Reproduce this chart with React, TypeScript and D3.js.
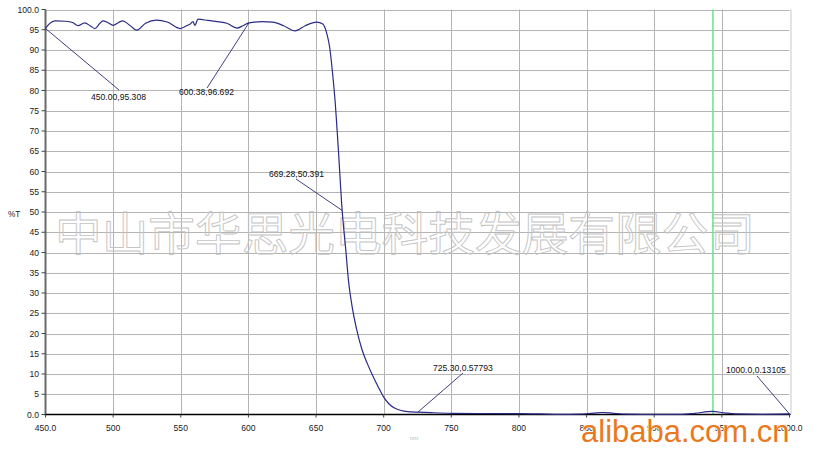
import React from "react";
import * as d3 from "d3";

const wavelengths = [
  450, 453, 457, 465, 470, 474, 479, 483, 486.5, 490, 492.5, 496, 500, 504, 507, 512, 517.5, 524, 532, 540,
  549.5, 555, 557, 559, 560.5, 562.7, 570, 584, 591.5, 596, 600.4, 610, 618, 626, 634.5, 642, 650.5, 655,
  658, 660, 662, 664, 666.5, 669.3, 672, 674, 677, 680, 684, 688, 692, 696, 700, 704, 708, 714, 720, 725.3,
  735, 750, 770, 800, 815, 830, 845, 855, 862, 870, 880, 900, 920, 930, 943, 952, 960, 980, 1000,
];
const transmittance = [
  95.3, 96.5, 97.2, 97.1, 96.8, 96.0, 96.7, 96.0, 95.3, 96.5, 97.2, 96.8, 96.1, 96.8, 97.2, 96.2, 94.9, 96.6, 97.4, 96.9,
  95.3, 96.1, 96.4, 97.0, 96.1, 97.6, 97.3, 96.6, 95.4, 96.0, 96.7, 97.0, 96.9, 96.0, 94.7, 96.0, 96.9, 96.4,
  94.0, 90.8, 85.0, 77.7, 65.4, 50.4, 40.6, 33, 26, 21, 16, 12.5, 9.5, 6.8, 4.3, 2.6, 1.6, 0.9, 0.65, 0.578,
  0.45, 0.3, 0.25, 0.22, 0.15, 0.05, 0.1, 0.35, 0.5, 0.3, 0.1, 0.02, 0.05, 0.3, 0.75, 0.4, 0.15, 0.05, 0.131,
];

const xTicks = [450, 500, 550, 600, 650, 700, 750, 800, 850, 900, 950, 1000];
const xTickLabels = ["450.0", "500", "550", "600", "650", "700", "750", "800", "850", "900", "950", "1000.0"];
const yTicks = [0, 5, 10, 15, 20, 25, 30, 35, 40, 45, 50, 55, 60, 65, 70, 75, 80, 85, 90, 95, 100];
const yTickLabels = yTicks.map((v) => (v === 0 ? "0.0" : v === 100 ? "100.0" : String(v)));

const markerX = 943.4;

const annotationPoints = [
  { w: 450.0, t: 95.308, label: "450.00,95.308" },
  { w: 600.38, t: 96.692, label: "600.38,96.692" },
  { w: 669.28, t: 50.391, label: "669.28,50.391" },
  { w: 725.3, t: 0.57793, label: "725.30,0.57793" },
  { w: 1000.0, t: 0.13105, label: "1000.0,0.13105" },
];
// label anchor offsets (pixels) relative to the data point: line end and text position
const annotationLayout = [
  { lx: 119, ly: 90, tx: 91, ty: 100 },
  { lx: 207, ly: 88, tx: 179, ty: 95 },
  { lx: 296, ly: 179, tx: 269, ty: 177 },
  { lx: 463, ly: 373, tx: 433, ty: 371 },
  { lx: 757, ly: 376, tx: 726, ty: 373 },
];

const watermark = "中山市华思光电科技发展有限公司";

export default function App() {
  const W = 813;
  const H = 455;
  const x = d3.scaleLinear().domain([450, 1000]).range([45.5, 789.5]);
  const y = d3.scaleLinear().domain([0, 100]).range([414.5, 9.5]);

  const data = wavelengths.map((w, i) => [w, transmittance[i]] as [number, number]);
  const line = d3
    .line<[number, number]>()
    .x((d) => x(d[0]))
    .y((d) => y(d[1]))
    .curve(d3.curveMonotoneX);

  const font = "'Liberation Sans', Arial, sans-serif";

  return (
    <svg
      width={W}
      height={H}
      viewBox={`0 0 ${W} ${H}`}
      style={{ position: "absolute", left: 0, top: 0, display: "block", background: "#fff" }}
    >
      <rect x={0} y={0} width={W} height={H} fill="#fff" />

      {/* grid */}
      {xTicks.slice(1).map((t) => (
        <line key={"gx" + t} x1={Math.round(x(t)) + 0.5} x2={Math.round(x(t)) + 0.5} y1={y(100)} y2={y(0)} stroke="#b4b4b4" strokeWidth={1} />
      ))}
      {yTicks.slice(1).map((t) => (
        <line key={"gy" + t} x1={x(450)} x2={x(1000)} y1={Math.round(y(t)) + 0.5} y2={Math.round(y(t)) + 0.5} stroke="#b4b4b4" strokeWidth={1} />
      ))}
      <line x1={x(1000) + 1.5} x2={x(1000) + 1.5} y1={y(100)} y2={y(0)} stroke="#e4e4e4" strokeWidth={2} />

      {/* watermark */}
      <text
        x={55}
        y={250}
        fontFamily="'Noto Sans CJK SC', sans-serif"
        fontSize={46}
        textLength={700}
        lengthAdjust="spacingAndGlyphs"
        fill="none"
        stroke="#c4c4c4"
        strokeWidth={0.9}
      >
        {watermark}
      </text>

      {/* green marker */}
      <line x1={x(markerX)} x2={x(markerX)} y1={y(100)} y2={y(0)} stroke="#6fe08f" strokeWidth={1.5} />

      {/* axes */}
      <line x1={x(450)} x2={x(450)} y1={y(100)} y2={y(0) + 1} stroke="#6a6a6a" strokeWidth={2} />
      <line x1={x(450)} x2={x(1000) + 1} y1={y(0)} y2={y(0)} stroke="#000" strokeWidth={1.5} />
      {yTicks.map((t) => (
        <line key={"ty" + t} x1={x(450) - 4} x2={x(450)} y1={y(t)} y2={y(t)} stroke="#444" strokeWidth={1} />
      ))}
      {xTicks.map((t) => (
        <line key={"tx" + t} x1={x(t)} x2={x(t)} y1={y(0)} y2={y(0) + 3} stroke="#444" strokeWidth={1} />
      ))}
      {yTicks.map((t, i) => (
        <text key={"ly" + t} x={39} y={y(t) + 3} textAnchor="end" fontFamily={font} fontSize={8.6} fill="#222">
          {yTickLabels[i]}
        </text>
      ))}
      {xTicks.map((t, i) => (
        <text key={"lx" + t} x={x(t)} y={431} textAnchor="middle" fontFamily={font} fontSize={8.6} fill="#222">
          {xTickLabels[i]}
        </text>
      ))}
      <text x={8} y={217} fontFamily={font} fontSize={8.2} fill="#222">%T</text>
      <text x={410} y={440} fontFamily={font} fontSize={6} fill="#bbb">nm</text>

      {/* curve */}
      <path d={line(data) || ""} fill="none" stroke="#2a2a88" strokeWidth={1.2} />

      {/* annotations */}
      {annotationPoints.map((a, i) => {
        const L = annotationLayout[i];
        return (
          <g key={"an" + i}>
            <line x1={x(a.w)} y1={y(a.t)} x2={L.lx} y2={L.ly} stroke="#2a2a70" strokeWidth={0.9} />
            <text x={L.tx} y={L.ty} fontFamily={font} fontSize={8.6} fill="#111">
              {a.label}
            </text>
          </g>
        );
      })}

      {/* logo */}
      <text
        x={581}
        y={442}
        fontFamily={font}
        fontSize={31}
        fill="#e9791e"
        stroke="#fff"
        strokeWidth={1.5}
        style={{ paintOrder: "stroke" }}
      >
        alibaba.com.cn
      </text>
    </svg>
  );
}
